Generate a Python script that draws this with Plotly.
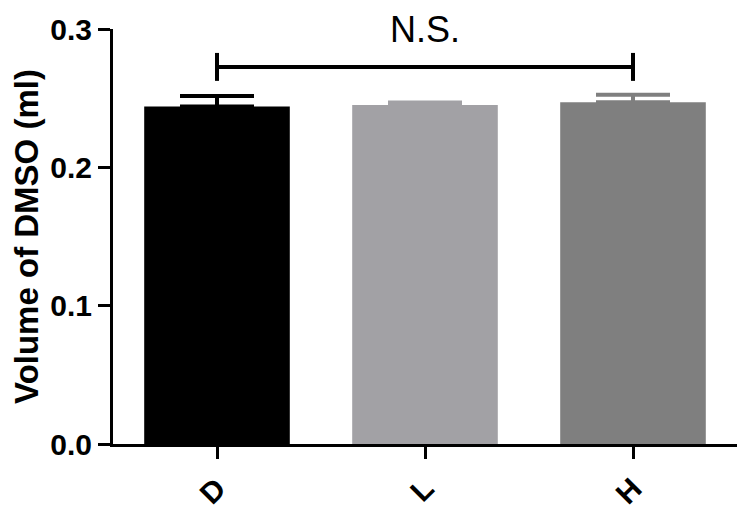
import plotly.graph_objects as go

categories = ["D", "L", "H"]
means = [0.244, 0.245, 0.247]
errors = [0.0075, 0.0018, 0.0055]
colors = ["#000000", "#a2a1a5", "#7f7f7f"]
y_ticks = [0.0, 0.1, 0.2, 0.3]
y_tick_labels = ["0.0", "0.1", "0.2", "0.3"]
bracket_level = 0.2726
bracket_half = 0.0101
sig_label = "N.S."
sig_label_y = 0.2995

FONT = "Liberation Sans, Arial, sans-serif"

fig = go.Figure()
for c, m, e, col in zip(categories, means, errors, colors):
    fig.add_trace(go.Bar(
        x=[c], y=[m], marker=dict(color=col, line=dict(width=0)),
        width=0.7,
        error_y=dict(type="data", symmetric=False, array=[e], arrayminus=[0],
                     color=col, thickness=4, width=37),
        showlegend=False,
    ))

# significance bracket
for c in [categories[0], categories[-1]]:
    fig.add_trace(go.Scatter(
        x=[c, c], y=[bracket_level - bracket_half, bracket_level + bracket_half],
        mode="lines", line=dict(color="black", width=4), showlegend=False,
        hoverinfo="skip"))
fig.add_trace(go.Scatter(
    x=[categories[0], categories[-1]], y=[bracket_level, bracket_level],
    mode="lines", line=dict(color="black", width=4), showlegend=False,
    hoverinfo="skip"))

fig.add_annotation(x=categories[1], y=sig_label_y, text=sig_label, showarrow=False,
                   font=dict(family=FONT, size=36, color="black"), yanchor="middle")

fig.update_layout(
    width=734, height=501,
    margin=dict(l=105, r=5, t=21, b=65),
    plot_bgcolor="white", paper_bgcolor="white",
    xaxis=dict(
        type="category", categoryorder="array", categoryarray=categories,
        range=[-0.5, 2.5], automargin=False,
        showline=True, linecolor="black", linewidth=3,
        ticks="outside", ticklen=12, tickwidth=3, tickcolor="black",
        tickangle=-45,
        tickfont=dict(family=FONT, size=30, color="black", weight="bold"),
        showgrid=False, zeroline=False,
    ),
    yaxis=dict(
        range=[0, 0.3], automargin=False,
        tickvals=y_ticks, ticktext=y_tick_labels,
        showline=True, linecolor="black", linewidth=3,
        ticks="outside", ticklen=12, tickwidth=3, tickcolor="black",
        tickfont=dict(family=FONT, size=30, color="black", weight="bold"),
        title=dict(text="Volume of DMSO (ml)",
                   font=dict(family=FONT, size=33, color="black", weight="bold"),
                   standoff=4),
        showgrid=False, zeroline=False,
    ),
)

fig.write_html("out.html")
